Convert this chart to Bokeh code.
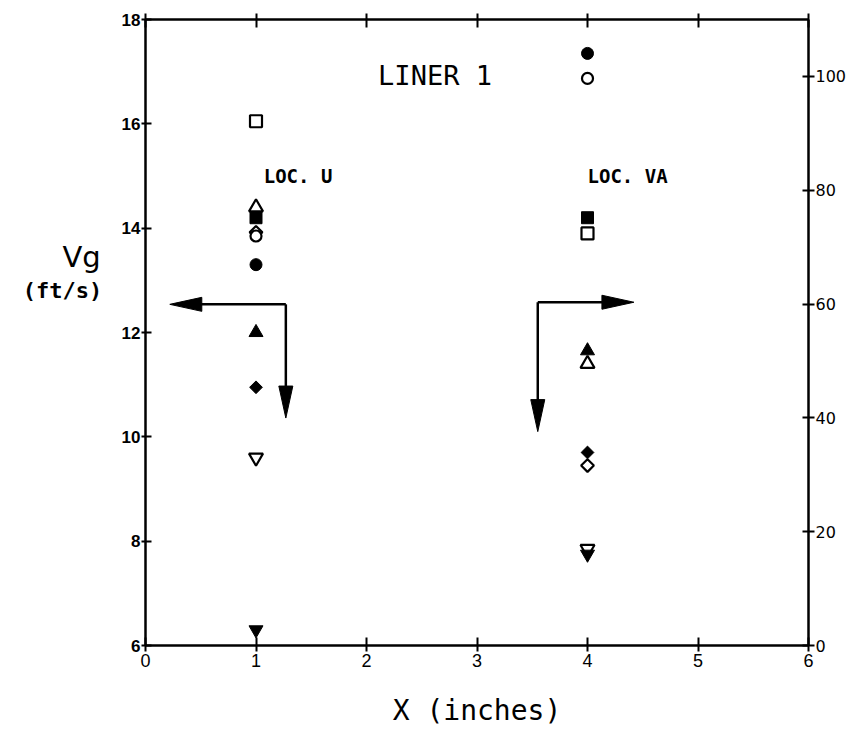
import numpy as np
from bokeh.plotting import figure
from bokeh.layouts import row
from bokeh.models import Range1d, LinearAxis, FixedTicker, Label
from bokeh.embed import file_html
from bokeh.resources import INLINE

# Measurement stations along the liner (inches)
stations = [1, 4]

# Gas velocity Vg (ft/s) at each station, one list per symbol
open_square = [16.05, 13.90]
filled_square = [14.20, 14.20]
open_triangle = [14.40, 11.40]
filled_triangle = [12.00, 11.65]
open_circle = [13.85, 16.87]
filled_circle = [13.30, 17.35]
open_diamond = [13.92, 9.45]
filled_diamond = [10.95, 9.70]
open_inv_triangle = [9.60, 7.85]
filled_inv_triangle = [6.30, 7.75]

x_ticks = [0, 1, 2, 3, 4, 5, 6]
vg_ticks = [6, 8, 10, 12, 14, 16, 18]
right_ticks = [0, 20, 40, 60, 80, 100]

H = 731
CAP_W = 115            # width of the caption strip left of the chart
W = 861 - CAP_W
LEFT, RIGHT, TOP, BOTTOM = 30, 53, 19, 86
X0, X1, Y0, Y1 = 0, 6, 6, 18

# Caption strip holding the vertical-axis title (pixel coordinates, y downwards)
cap = figure(width=CAP_W, height=H, x_range=Range1d(0, CAP_W), y_range=Range1d(H, 0),
             output_backend="svg", toolbar_location=None,
             x_axis_location=None, y_axis_location=None,
             min_border=0, min_border_left=0, min_border_right=0,
             min_border_top=0, min_border_bottom=0)
cap.outline_line_color = None
cap.grid.visible = False
cap.add_layout(Label(x=81, y=277, text="Vg", text_font="DejaVu Sans",
                     text_font_size="29px", text_align="center",
                     text_baseline="alphabetic", text_color="black"))
cap.add_layout(Label(x=62, y=316, text="(ft/s)", text_font="DejaVu Sans Mono",
                     text_font_style="bold", text_font_size="22px", text_align="center",
                     text_baseline="alphabetic", text_color="black"))

p = figure(width=W, height=H, x_range=Range1d(X0, X1), y_range=Range1d(Y0, Y1),
           output_backend="svg", toolbar_location=None,
           x_axis_location=None, y_axis_location=None,
           min_border_left=LEFT, min_border_right=RIGHT,
           min_border_top=TOP, min_border_bottom=BOTTOM)
p.outline_line_color = None
p.grid.visible = False
p.background_fill_color = "white"
p.border_fill_color = "white"
p.extra_y_ranges = {"right": Range1d(0, 110)}


def style_axis(ax, size, bold=False, font="Liberation Sans"):
    ax.axis_line_width = 2.5
    ax.axis_line_color = "black"
    ax.major_tick_line_width = 2
    ax.major_tick_line_color = "black"
    ax.minor_tick_line_color = None
    ax.major_label_text_font = font
    ax.major_label_text_font_size = size
    ax.major_label_text_font_style = "bold" if bold else "normal"
    ax.major_label_text_color = "black"


left = LinearAxis(ticker=FixedTicker(ticks=vg_ticks))
style_axis(left, "17px", bold=True)
left.major_tick_out = 4
left.major_tick_in = 6
left.major_label_standoff = 1
p.add_layout(left, "left")

right = LinearAxis(y_range_name="right", ticker=FixedTicker(ticks=right_ticks))
style_axis(right, "16px", font="DejaVu Sans")
right.major_tick_out = 6
right.major_tick_in = 6
right.major_label_standoff = 1
p.add_layout(right, "right")

bottom = LinearAxis(ticker=FixedTicker(ticks=x_ticks), axis_label="X (inches)")
style_axis(bottom, "18px")
bottom.major_tick_out = 6
bottom.major_tick_in = 8
bottom.major_label_standoff = 2
bottom.axis_label_text_font = "DejaVu Sans Mono"
bottom.axis_label_text_font_size = "28px"
bottom.axis_label_text_font_style = "normal"
bottom.axis_label_text_color = "black"
bottom.axis_label_standoff = 24
p.add_layout(bottom, "below")

top = LinearAxis(ticker=FixedTicker(ticks=x_ticks))
style_axis(top, "1px")
top.major_label_text_color = None
top.major_tick_out = 6
top.major_tick_in = 8
p.add_layout(top, "above")

# Data symbols
OPEN = dict(fill_color="white", line_color="black", line_width=2.2)
FILL = dict(fill_color="black", line_color="black", line_width=1)
p.scatter(stations, open_square, marker="square", size=12, **OPEN)
p.scatter(stations, filled_square, marker="square", size=12, **FILL)
p.scatter(stations, open_triangle, marker="triangle", size=14, **OPEN)
p.scatter(stations, filled_triangle, marker="triangle", size=14, **FILL)
p.scatter(stations, open_diamond, marker="square", angle=np.pi / 4, size=9, **OPEN)
p.scatter(stations, open_circle, marker="circle", size=11, **OPEN)
p.scatter(stations, filled_circle, marker="circle", size=12, **FILL)
p.scatter(stations, filled_diamond, marker="square", angle=np.pi / 4, size=9, **FILL)
p.scatter(stations, open_inv_triangle, marker="inverted_triangle", size=14, **OPEN)
p.scatter(stations, filled_inv_triangle, marker="inverted_triangle", size=14, **FILL)

# Flow-direction arrows: corner point, then the two tips
px_x = (W - LEFT - RIGHT) / (X1 - X0)
px_y = (H - TOP - BOTTOM) / (Y1 - Y0)
HEAD_LEN, HEAD_W = 32, 14
arrows = [((1.27, 12.54), [(0.22, 12.54), (1.27, 10.36)]),
          ((3.55, 12.58), [(4.42, 12.58), (3.55, 10.10)])]
for (cx, cy), tips in arrows:
    for tx, ty in tips:
        # direction in screen pixels
        dx, dy = (tx - cx) * px_x, (ty - cy) * px_y
        L = np.hypot(dx, dy)
        ux, uy = dx / L, dy / L
        bx, by = tx - ux * HEAD_LEN / px_x, ty - uy * HEAD_LEN / px_y
        p.line([cx, bx + ux * 2 / px_x], [cy, by + uy * 2 / px_y],
               line_color="black", line_width=2.5)
        nx, ny = -uy, ux
        hx = [tx, bx + nx * HEAD_W / 2 / px_x, bx - nx * HEAD_W / 2 / px_x]
        hy = [ty, by + ny * HEAD_W / 2 / px_y, by - ny * HEAD_W / 2 / px_y]
        p.patch(hx, hy, fill_color="black", line_color="black", line_width=1)

# Texts inside the frame
p.add_layout(Label(x=2.62, y=16.93, text="LINER 1", text_font="DejaVu Sans Mono",
                   text_font_size="27px", text_align="center", text_baseline="middle",
                   text_color="black"))
p.add_layout(Label(x=1.07, y=15.0, text="LOC. U", text_font="DejaVu Sans Mono",
                   text_font_style="bold", text_font_size="19px",
                   text_align="left", text_baseline="middle", text_color="black"))
p.add_layout(Label(x=4.0, y=15.0, text="LOC. VA", text_font="DejaVu Sans Mono",
                   text_font_style="bold", text_font_size="19px",
                   text_align="left", text_baseline="middle", text_color="black"))

layout = row(cap, p, spacing=0)
open("out.html", "w").write(file_html(layout, INLINE))
